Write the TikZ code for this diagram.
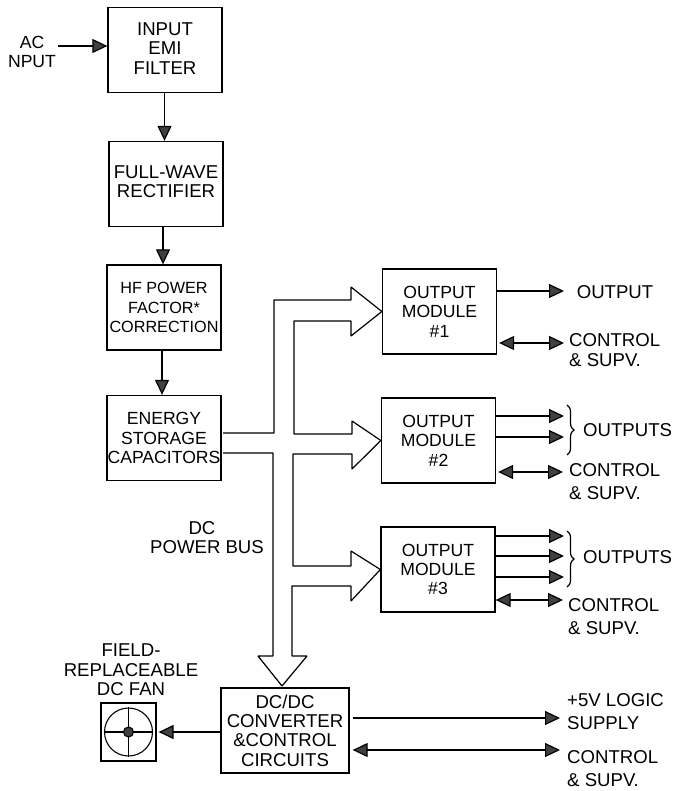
\documentclass[tikz,border=0pt]{standalone}
\usepackage{fontspec}
\setmainfont{Liberation Sans}
\usetikzlibrary{arrows.meta, decorations.pathreplacing}

\begin{document}
\begin{tikzpicture}[
        x=1pt, y=-1pt,
        block/.style={rectangle, draw=black, line width=1.3pt, minimum width=114pt, minimum height=85pt, inner sep=0pt, align=center, font=\fontsize{18.6}{19.4}\selectfont},
        txt/.style={inner sep=0pt, align=center, font=\fontsize{18.6}{19.4}\selectfont},
        sidetxt/.style={txt, anchor=west, align=left},
        small/.style={font=\fontsize{17.6}{19.4}\selectfont},
        narrow/.style={font=\fontsize{16.2}{19.4}\selectfont},
        sig/.style={line width=1.2pt, draw=black, -{Triangle[length=15pt, width=14pt, fill=black!75]}},
        sigboth/.style={line width=1.2pt, draw=black, {Triangle[length=15pt, width=14pt, fill=black!75]}-{Triangle[length=15pt, width=14pt, fill=black!75]}},
        bus/.style={line width=1.2pt, draw=black, line join=bevel},
        curly/.style={line width=1.2pt, draw=black, decorate, decoration={brace, amplitude=7pt}}
    ]
        \useasboundingbox (0,0) rectangle (675,791);

        % ----------------------------------------------------
        % LEFT COLUMN
        % ----------------------------------------------------
        \node[block] (emi) at (165, 50) {INPUT\\EMI\\FILTER\rule[-3pt]{0pt}{3pt}};
        \node[block] (rect) at (166, 184) {FULL-WAVE\\RECTIFIER\rule[-5pt]{0pt}{5pt}};
        \node[block, narrow] (pfc) at (164, 307.5) {HF POWER\\FACTOR*\\CORRECTION};
        \node[block, small] (cap) at (164, 438) {ENERGY\\STORAGE\\CAPACITORS};

        \node[txt, small] (acin) at (32, 52) {AC\\NPUT};
        \coordinate (acstart) at (58, 46);
        \draw[sig] (acstart) -- (acstart -| emi.west);
        \draw[sig] ([xshift=-0.5pt]emi.south) -- ([xshift=-1.5pt]rect.north);
        \draw[sig] ([xshift=-3pt]rect.south) -- ([xshift=-1pt]pfc.north);
        \draw[sig] ([xshift=-2pt]pfc.south) -- ([xshift=-2pt]cap.north);

        % ----------------------------------------------------
        % OUTPUT MODULES
        % ----------------------------------------------------
        \node[block, small] (modone) at (439.5, 311.5) {OUTPUT\\MODULE\\\#1};
        \node[block, small] (modtwo) at (438.5, 440.5) {OUTPUT\\MODULE\\\#2};
        \node[block, small] (modthree) at (438, 569.5) {OUTPUT\\MODULE\\\#3};
        \node[block, minimum width=128pt] (dcdc) at (285, 730.5) {DC/DC\\CONVERTER\\\&CONTROL\\CIRCUITS};

        % Module 1
        \node[txt] (outone) at (615, 292) {OUTPUT};
        \coordinate (endone) at (564, 291);
        \draw[sig] (modone.east |- endone) -- (endone);
        \node[sidetxt] (ctlone) at (569, 350) {CONTROL\\\& SUPV.};
        \coordinate (ctlendone) at (564, 343);
        \draw[sigboth] ([xshift=2pt]modone.east |- ctlendone) -- (ctlendone);

        % Module 2
        \coordinate (endtwoa) at (564, 416);
        \coordinate (endtwob) at (564, 437);
        \draw[sig] (modtwo.east |- endtwoa) -- (endtwoa);
        \draw[sig] (modtwo.east |- endtwob) -- (endtwob);
        \coordinate (bracetwoa) at (567, 405);
        \coordinate (bracetwob) at (567, 455);
        \draw[curly] (bracetwoa) -- (bracetwob);
        \node[sidetxt] (outtwo) at (583, 430) {OUTPUTS};
        \node[sidetxt] (ctltwo) at (569, 481.5) {CONTROL\\[3.6pt]\& SUPV.};
        \coordinate (ctlendtwo) at (563, 472);
        \draw[sigboth] ([xshift=2pt]modtwo.east |- ctlendtwo) -- (ctlendtwo);

        % Module 3
        \coordinate (endthreea) at (564, 536);
        \coordinate (endthreeb) at (564, 556);
        \coordinate (endthreec) at (564, 577);
        \draw[sig] (modthree.east |- endthreea) -- (endthreea);
        \draw[sig] (modthree.east |- endthreeb) -- (endthreeb);
        \draw[sig] (modthree.east |- endthreec) -- (endthreec);
        \coordinate (bracethreea) at (567, 531);
        \coordinate (bracethreeb) at (567, 587);
        \draw[curly] (bracethreea) -- (bracethreeb);
        \node[sidetxt] (outthree) at (583, 557) {OUTPUTS};
        \node[sidetxt] (ctlthree) at (568, 616.5) {CONTROL\\[3.6pt]\& SUPV.};
        \coordinate (ctlendthree) at (563, 600);
        \draw[sigboth] (modthree.east |- ctlendthree) -- (ctlendthree);

        % ----------------------------------------------------
        % DC/DC AND FAN
        % ----------------------------------------------------
        \node[rectangle, draw=black, line width=1.2pt, minimum width=55pt, minimum height=58pt, inner sep=0pt] (fan) at (128.5, 732) {};
        \node[circle, draw=black, line width=1.1pt, minimum size=48pt, inner sep=0pt] (wheel) at (fan.center) {};
        \draw[line width=1.1pt] (wheel.north) -- (wheel.south);
        \draw[line width=1.1pt] (wheel.west) -- (wheel.east);
        \node[circle, draw=black, fill=black!75, line width=1.1pt, minimum size=10pt, inner sep=0pt] (hub) at (fan.center) {};
        \node[txt] (fanlabel) at (131, 670) {FIELD-\\REPLACEABLE\\DC FAN};
        \draw[sig] (dcdc.west |- fan.east) -- ([xshift=2pt]fan.east);

        \coordinate (logicend) at (560, 718);
        \coordinate (ctlenddc) at (560, 750);
        \draw[sig] ([xshift=3pt]dcdc.east |- logicend) -- (logicend);
        \draw[sigboth] ([xshift=3pt]dcdc.east |- ctlenddc) -- (ctlenddc);
        \node[sidetxt] (logic) at (567, 711.5) {+5V LOGIC\\[3.6pt]SUPPLY};
        \node[sidetxt] (ctldc) at (567, 769) {CONTROL\\[3.6pt]\& SUPV.};

        % ----------------------------------------------------
        % DC BUS
        % ----------------------------------------------------
        \node[txt] (buslabel) at (207, 537.5) {DC\kern10pt\\POWER BUS};
        \coordinate (bustop) at (223, 433);
        \coordinate (busbot) at (223, 453);
        \draw[bus] (bustop) -- (274, 433) -- (274, 300) -- (351, 300) -- (351, 287)
            -- (modone.west) -- (351, 336) -- (351, 321) -- (294, 321) -- (294, 434)
            -- (352, 434) -- (352, 421) -- (modtwo.west) -- (352, 469) -- (352, 454)
            -- (293, 454) -- (293, 566) -- (351, 566) -- (351, 551) -- (modthree.west)
            -- (351, 601) -- (351, 586) -- (292, 586) -- (292, 656) -- (307, 656)
            -- (282, 686) -- (258, 656) -- (273, 656) -- (273, 453) -- (busbot);
    \end{tikzpicture}
\end{document}
